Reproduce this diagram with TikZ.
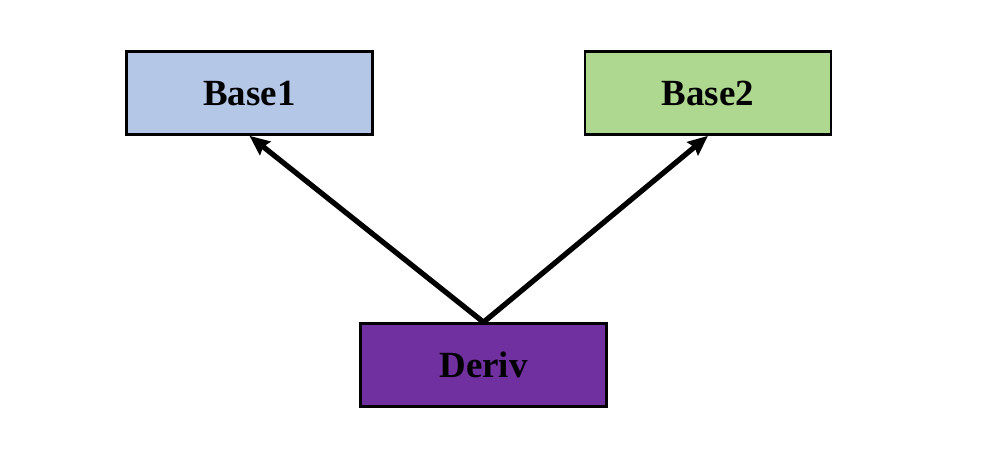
\documentclass[tikz,border=0pt]{standalone}
\usepackage{fontspec}
\setmainfont{Liberation Serif}
\usepackage{tikz}
\usetikzlibrary{shapes,arrows.meta}
\definecolor{baseblue}{RGB}{180,199,231}
\definecolor{basegreen}{RGB}{174,215,143}
\definecolor{derivpurple}{RGB}{112,48,160}
\tikzstyle{arrow} = [line width=3pt,-{Stealth[length=0.4cm,width=0.34cm,inset=0.05cm]}]
\tikzstyle{cls} = [draw,line width=1.5pt,minimum width=4.92cm,minimum height=1.66cm,font=\fontsize{21}{24}\selectfont\bfseries]

\begin{document}
\begin{tikzpicture}
  \useasboundingbox (0,0) rectangle (19.68,-9.4);
  \node[cls,fill = baseblue] (base1) at (4.99,-1.86) {Base1};
  \node[cls,fill = basegreen] (base2) at (14.16,-1.86) {Base2};
  \node[cls,fill = derivpurple] (deriv) at (9.67,-7.3) {Deriv};
 \draw [arrow] (deriv.north) -- (base1.south);
 \draw [arrow] (deriv.north) -- (base2.south);
\end{tikzpicture}
\end{document}
